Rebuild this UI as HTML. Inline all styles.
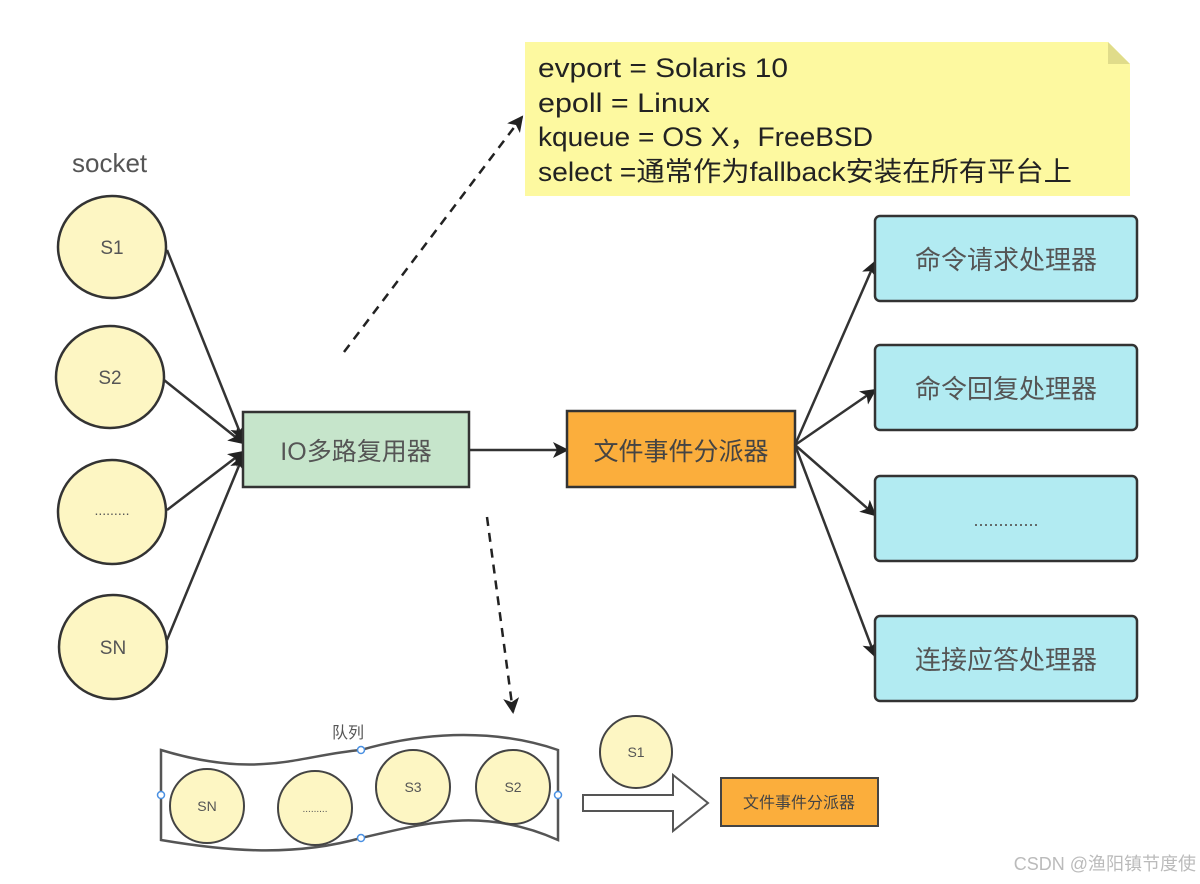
<!DOCTYPE html>
<html><head><meta charset="utf-8"><style>
html,body{margin:0;padding:0;background:#fff;}
svg{display:block;}
text{font-family:"Liberation Sans","Noto Sans CJK SC",sans-serif;fill:#555;}
</style></head><body>
<svg width="1200" height="884" viewBox="0 0 1200 884" xmlns="http://www.w3.org/2000/svg">
<defs>
<marker id="ah2" markerWidth="16" markerHeight="16" refX="14" refY="8" orient="auto" markerUnits="userSpaceOnUse" viewBox="0 0 16 16">
<path d="M0,0 L16,8 L0,16 L4,8 z" fill="#222"/></marker>
</defs>
<path d="M525,42 H1108 L1130,64 V196 H525 Z" fill="#fdf9a0"/>
<path d="M1108,42 V64 H1130 Z" fill="#e0dc8a"/>
<g font-size="27">
<text x="538" y="77" style="fill:#222" textLength="250" lengthAdjust="spacingAndGlyphs">evport = Solaris 10</text>
<text x="538" y="112" style="fill:#222" textLength="172" lengthAdjust="spacingAndGlyphs">epoll = Linux</text>
<text x="538" y="146" style="fill:#222" textLength="335" lengthAdjust="spacingAndGlyphs">kqueue = OS X，FreeBSD</text>
<text x="538" y="181" style="fill:#222" textLength="534" lengthAdjust="spacingAndGlyphs">select =通常作为fallback安装在所有平台上</text>
</g>
<text x="72" y="172" font-size="26" style="fill:#555">socket</text>
<g fill="#fdf6c3" stroke="#333" stroke-width="2.5">
<ellipse cx="112" cy="247" rx="54" ry="51"/>
<ellipse cx="110" cy="377" rx="54" ry="51"/>
<ellipse cx="112" cy="512" rx="54" ry="52"/>
<ellipse cx="113" cy="647" rx="54" ry="52"/>
</g>
<g font-size="19" text-anchor="middle">
<text x="112" y="254">S1</text><text x="110" y="384">S2</text>
<text x="112" y="515" font-size="14">.........</text><text x="113" y="654">SN</text>
</g>
<g stroke="#333" stroke-width="2.5" fill="none" marker-end="url(#ah2)">
<line x1="167" y1="250" x2="243" y2="440"/>
<line x1="164" y1="380" x2="243" y2="443"/>
<line x1="167" y1="510" x2="243" y2="452"/>
<line x1="167" y1="640" x2="243" y2="456"/>
</g>
<rect x="243" y="412" width="226" height="75" fill="#c6e5cb" stroke="#333" stroke-width="2.5"/>
<text x="356" y="460" font-size="25" text-anchor="middle">IO多路复用器</text>
<line x1="469" y1="450" x2="567" y2="450" stroke="#333" stroke-width="2.5" marker-end="url(#ah2)"/>
<rect x="567" y="411" width="228" height="76" fill="#fbae3c" stroke="#333" stroke-width="2.5"/>
<text x="681" y="460" font-size="25" text-anchor="middle" style="fill:#444">文件事件分派器</text>
<g stroke="#333" stroke-width="2.5" marker-end="url(#ah2)">
<line x1="795" y1="445" x2="875" y2="262"/>
<line x1="795" y1="445" x2="875" y2="390"/>
<line x1="795" y1="445" x2="875" y2="515"/>
<line x1="795" y1="445" x2="875" y2="656"/>
</g>
<g fill="#b2ebf2" stroke="#333" stroke-width="2.5">
<rect x="875" y="216" width="262" height="85" rx="5"/>
<rect x="875" y="345" width="262" height="85" rx="5"/>
<rect x="875" y="476" width="262" height="85" rx="5"/>
<rect x="875" y="616" width="262" height="85" rx="5"/>
</g>
<g font-size="26" text-anchor="middle">
<text x="1006" y="269">命令请求处理器</text>
<text x="1006" y="398">命令回复处理器</text>
<text x="1006" y="526" font-size="18">.............</text>
<text x="1006" y="669">连接应答处理器</text>
</g>
<line x1="344" y1="352" x2="522" y2="117" stroke="#222" stroke-width="2.5" stroke-dasharray="9,7" marker-end="url(#ah2)"/>
<line x1="487" y1="517" x2="513" y2="712" stroke="#222" stroke-width="2.5" stroke-dasharray="9,7" marker-end="url(#ah2)"/>
<text x="348" y="738" font-size="16" text-anchor="middle">队列</text>
<path d="M161,750 C260,780 300,755 361,750 C430,730 500,730 558,750 L558,840 C480,805 420,825 361,838 C290,858 220,850 161,840 Z" fill="#fff" stroke="#555" stroke-width="2.5"/>
<g fill="#fff" stroke="#4a90e2" stroke-width="1.5">
<circle cx="161" cy="795" r="3.5"/><circle cx="361" cy="750" r="3.5"/><circle cx="558" cy="795" r="3.5"/><circle cx="361" cy="838" r="3.5"/>
</g>
<g fill="#fdf6c3" stroke="#444" stroke-width="2">
<ellipse cx="207" cy="806" rx="37" ry="37"/>
<ellipse cx="315" cy="808" rx="37" ry="37"/>
<ellipse cx="413" cy="787" rx="37" ry="37"/>
<ellipse cx="513" cy="787" rx="37" ry="37"/>
<ellipse cx="636" cy="752" rx="36" ry="36"/>
</g>
<g font-size="14" text-anchor="middle">
<text x="207" y="811">SN</text><text x="315" y="812" font-size="10">.........</text>
<text x="413" y="792">S3</text><text x="513" y="792">S2</text><text x="636" y="757">S1</text>
</g>
<path d="M583,795 H673 V775 L708,803 L673,831 V811 H583 Z" fill="#fff" stroke="#555" stroke-width="2"/>
<rect x="721" y="778" width="157" height="48" fill="#fbae3c" stroke="#444" stroke-width="2"/>
<text x="799" y="808" font-size="16" text-anchor="middle" style="fill:#444">文件事件分派器</text>
<text x="1196" y="870" font-size="18" text-anchor="end" style="fill:#bbb">CSDN @渔阳镇节度使</text>
</svg>
</body></html>
